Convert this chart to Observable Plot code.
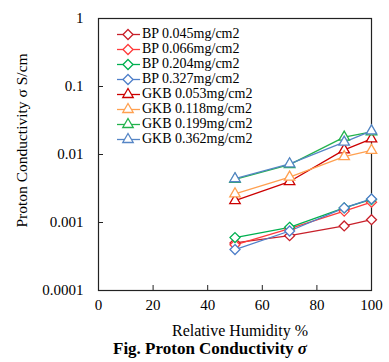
<!DOCTYPE html>
<html>
<head>
<meta charset="utf-8">
<script src="https://cdn.jsdelivr.net/npm/d3@7"></script>
<script src="https://cdn.jsdelivr.net/npm/@observablehq/plot@0.6"></script>
<style>
  html, body { margin: 0; padding: 0; background: #fff; }
  #wrap { position: relative; width: 389px; height: 362px; font-family: "Liberation Serif", "Times New Roman", serif; }
  #chart svg { display: block; font-family: "Liberation Serif", "Times New Roman", serif !important; }
  #chart svg text { font-family: "Liberation Serif", "Times New Roman", serif !important; }
  #legend { position: absolute; left: 116px; top: 26.5px; font-size: 14px; color: #000; }
  .row { height: 15px; display: flex; align-items: center; white-space: nowrap; }
  .row svg { display: block; margin-right: 1px; }
  #title { position: absolute; left: 113px; top: 338px; height: 22px; line-height: 22px; font-size: 17px; font-weight: bold; }
</style>
</head>
<body>
<div id="wrap">
  <div id="chart"></div>
  <div id="legend"></div>
  <div id="title">Fig. Proton Conductivity <i>σ</i></div>
</div>
<script>
const rh = [50, 70, 90, 100];
const seriesNames = [
  "BP 0.045mg/cm2", "BP 0.066mg/cm2", "BP 0.204mg/cm2", "BP 0.327mg/cm2",
  "GKB 0.053mg/cm2", "GKB 0.118mg/cm2", "GKB 0.199mg/cm2", "GKB 0.362mg/cm2"
];
const bp045 = [0.00050, 0.00064, 0.00089, 0.00110];
const bp066 = [0.00047, 0.00081, 0.00147, 0.00199];
const bp204 = [0.00060, 0.00085, 0.00164, 0.00218];
const bp327 = [0.00040, 0.00075, 0.00164, 0.00222];
const gkb053 = [0.0021, 0.0040, 0.0117, 0.0170];
const gkb118 = [0.00264, 0.00464, 0.0093, 0.0115];
const gkb199 = [0.0043, 0.0071, 0.0180, 0.0215];
const gkb362 = [0.0044, 0.0073, 0.0152, 0.0222];
const seriesValues = [bp045, bp066, bp204, bp327, gkb053, gkb118, gkb199, gkb362];
const seriesColors = ["#C8202A", "#FF3B3B", "#00B050", "#4F7FC9", "#CC0000", "#FFA050", "#22B24C", "#5585C5"];
const seriesSymbols = ["diamond2", "diamond2", "diamond2", "diamond2", "triangle2", "triangle2", "triangle2", "triangle2"];
const xTicks = [0, 20, 40, 60, 80, 100];
const yTicks = [0.0001, 0.001, 0.01, 0.1, 1];
const xLabel = "Relative Humidity %";
const yLabel = "Proton Conductivity σ S/cm";

const data = [];
seriesNames.forEach((name, i) => {
  seriesValues[i].forEach((v, j) => data.push({series: name, rh: rh[j], value: v, idx: i}));
});

const font = "Liberation Serif, Times New Roman, serif";
const marks = [
  Plot.frame({stroke: "#222", strokeWidth: 1.2}),
  Plot.ruleY(yTicks.slice(1, -1), {x1: 0, x2: 100 * 5 / 273, stroke: "#222"}),
  Plot.ruleX(xTicks.slice(1, -1), {y1: yTicks[0], y2: yTicks[0] * Math.pow(10, 5 / 68), stroke: "#222"}),
  Plot.axisX({ticks: xTicks, tickSize: 0, tickPadding: 9, fontSize: 15, fontFamily: font, label: null, tickFormat: d => String(d)}),
  Plot.axisY({ticks: yTicks, tickSize: 0, tickPadding: 15, fontSize: 15, fontFamily: font, label: null, tickFormat: d => String(d)}),
  Plot.text([yLabel], {frameAnchor: "left", dx: -76, dy: -14, rotate: -90, fontSize: 15.5, fontFamily: font, textAnchor: "middle", lineAnchor: "middle", fill: "#000"}),
  Plot.text([xLabel], {frameAnchor: "bottom", dx: 5, dy: 40, fontSize: 16, fontFamily: font, textAnchor: "middle", lineAnchor: "middle", fill: "#000"})
];
seriesNames.forEach((name, i) => {
  const d = data.filter(r => r.idx === i);
  marks.push(Plot.line(d, {x: "rh", y: "value", stroke: seriesColors[i], strokeWidth: 1.3}));
});
seriesNames.forEach((name, i) => {
  const d = data.filter(r => r.idx === i);
  marks.push(Plot.dot(d, {x: "rh", y: "value", stroke: seriesColors[i], fill: "white", symbol: seriesSymbols[i], r: i < 4 ? 4.5 : 5, strokeWidth: 1.3}));
});

const chart = Plot.plot({
  width: 389,
  height: 362,
  marginLeft: 98,
  marginRight: 18,
  marginTop: 18,
  marginBottom: 72,
  style: {fontFamily: font, color: "#000", background: "white"},
  x: {domain: [0, 100]},
  y: {type: "log", domain: [0.0001, 1]},
  marks
});
document.getElementById("chart").appendChild(chart);

const legend = document.getElementById("legend");
seriesNames.forEach((name, i) => {
  const row = document.createElement("div");
  row.className = "row";
  const ns = "http://www.w3.org/2000/svg";
  const svg = document.createElementNS(ns, "svg");
  svg.setAttribute("width", 25);
  svg.setAttribute("height", 15);
  const line = document.createElementNS(ns, "line");
  line.setAttribute("x1", 1); line.setAttribute("x2", 24);
  line.setAttribute("y1", 7.5); line.setAttribute("y2", 7.5);
  line.setAttribute("stroke", seriesColors[i]); line.setAttribute("stroke-width", 1.3);
  svg.appendChild(line);
  const p = document.createElementNS(ns, "path");
  const sym = i < 4 ? d3.symbolDiamond2 : d3.symbolTriangle2;
  const rr = i < 4 ? 4.5 : 5;
  p.setAttribute("d", d3.symbol(sym, Math.PI * rr * rr)());
  p.setAttribute("transform", "translate(12,7.5)");
  p.setAttribute("fill", "white");
  p.setAttribute("stroke", seriesColors[i]);
  p.setAttribute("stroke-width", 1.3);
  svg.appendChild(p);
  row.appendChild(svg);
  const t = document.createElement("span");
  t.textContent = name;
  row.appendChild(t);
  legend.appendChild(row);
});
</script>
</body>
</html>
